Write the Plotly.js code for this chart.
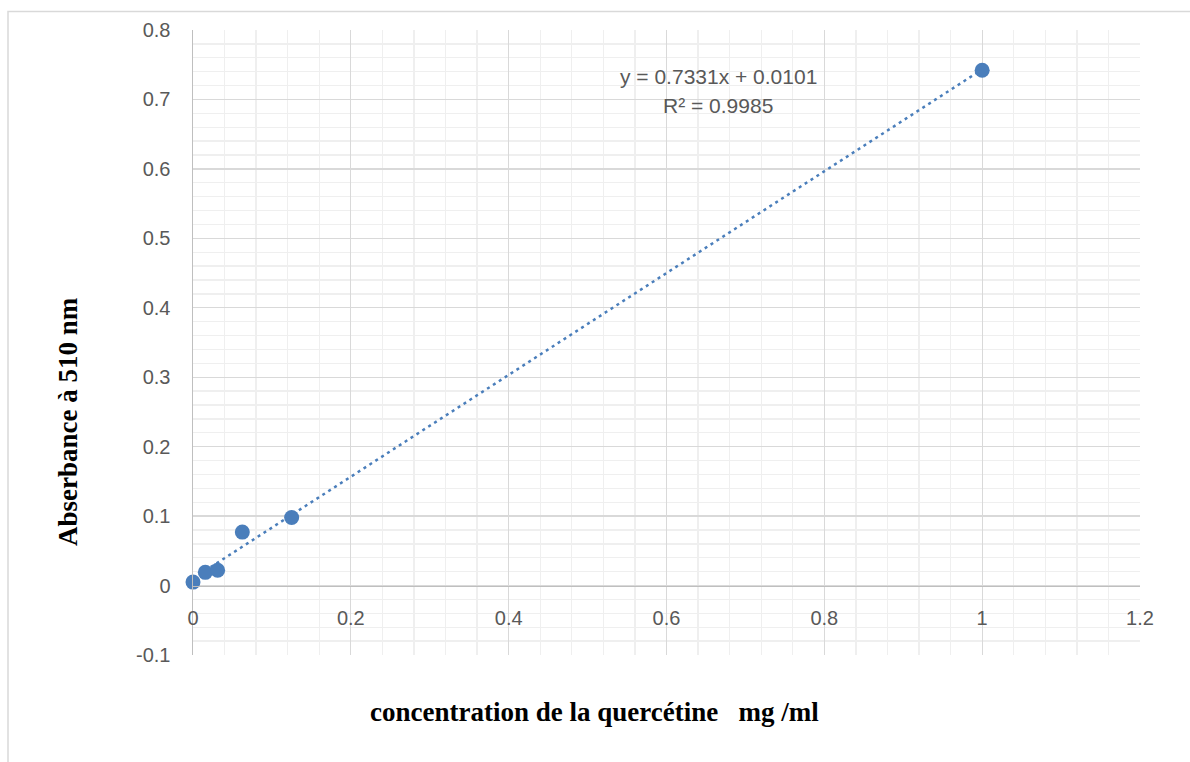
<!DOCTYPE html>
<html>
<head>
<meta charset="utf-8">
<script src="https://cdn.plot.ly/plotly-3.0.1.min.js"></script>
<style>
html,body{margin:0;padding:0;background:#fff;}
#chart{width:1190px;height:762px;}
</style>
</head>
<body>
<div id="chart"></div>
<script>
// Data
const concentration = [0, 0.015625, 0.03125, 0.0625, 0.125, 1];
const absorbance = [0.005, 0.019, 0.022, 0.077, 0.098, 0.742];
const trendSlope = 0.7331;
const trendIntercept = 0.0101;
const trendX = [0, 1];
const equationText = "y = 0.7331x + 0.0101";
const r2Text = "R² = 0.9985";
const xTitle = "concentration de la quercétine\u00A0\u00A0\u00A0mg /ml";
const yTitle = "Abserbance à 510 nm";
const xTickVals = [0, 0.2, 0.4, 0.6, 0.8, 1, 1.2];
const xTickText = ["0", "0.2", "0.4", "0.6", "0.8", "1", "1.2"];
const yTickVals = [-0.1, 0, 0.1, 0.2, 0.3, 0.4, 0.5, 0.6, 0.7, 0.8];
const yTickText = ["-0.1", "0", "0.1", "0.2", "0.3", "0.4", "0.5", "0.6", "0.7", "0.8"];

const trendY = trendX.map(x => trendSlope * x + trendIntercept);

const blue = '#4a7ebb';
const tickFont = {family: 'Liberation Sans, Arial, sans-serif', size: 20, color: '#595959'};
const titleFont = {family: 'Liberation Serif, Times New Roman, serif', size: 27, color: '#000', weight: 'bold'};

const traces = [
  {
    x: trendX, y: trendY, type: 'scatter', mode: 'lines',
    line: {color: blue, width: 2.5, dash: '3px,4px'},
    hoverinfo: 'skip', showlegend: false
  },
  {
    x: concentration, y: absorbance, type: 'scatter', mode: 'markers',
    marker: {color: blue, size: 15},
    showlegend: false, cliponaxis: false
  }
];

const L = 193, R = 1140, T = 30, B = 655, W = 1190, H = 762;
const pw = R - L, ph = B - T;
const px = v => (v - L) / pw;
const py = v => (B - v) / ph;

const layout = {
  width: W, height: H,
  margin: {l: L, r: W - R, t: T, b: H - B, pad: 0},
  paper_bgcolor: '#fff', plot_bgcolor: '#fff',
  showlegend: false,
  xaxis: {
    range: [0, 1.2], tickmode: 'array', tickvals: xTickVals, ticktext: xTickText,
    anchor: 'free', position: 0.1 / 0.9,
    showline: true, linecolor: '#bfbfbf', linewidth: 1.5,
    showgrid: true, gridcolor: '#d9d9d9', gridwidth: 1.3,
    zeroline: false, ticks: '',
    ticklabelstandoff: 14,
    tickfont: tickFont,
    minor: {tickmode: 'linear', tick0: 0, dtick: 0.04, showgrid: true, gridcolor: '#efefef', gridwidth: 1.3}
  },
  yaxis: {
    range: [-0.1, 0.8], tickmode: 'array', tickvals: yTickVals, ticktext: yTickText,
    showline: true, linecolor: '#bfbfbf', linewidth: 1.5,
    showgrid: true, gridcolor: '#d9d9d9', gridwidth: 1.3,
    zeroline: false, ticks: '',
    ticklabelstandoff: 17,
    tickfont: tickFont,
    minor: {tickmode: 'linear', tick0: 0, dtick: 0.02, showgrid: true, gridcolor: '#efefef', gridwidth: 1.3}
  },
  annotations: [
    {x: 0.6654, y: 0.7324, xref: 'x', yref: 'y', text: equationText, showarrow: false,
     font: {family: 'Liberation Sans, Arial, sans-serif', size: 21, color: '#595959'}, xanchor: 'center', yanchor: 'middle'},
    {x: 0.6654, y: 0.692, xref: 'x', yref: 'y', text: r2Text, showarrow: false,
     font: {family: 'Liberation Sans, Arial, sans-serif', size: 21, color: '#595959'}, xanchor: 'center', yanchor: 'middle'},
    {x: px(594), y: py(712), xref: 'paper', yref: 'paper', text: xTitle, showarrow: false,
     font: titleFont, xanchor: 'center', yanchor: 'middle'},
    {x: px(68), y: py(422), xref: 'paper', yref: 'paper', text: yTitle, showarrow: false,
     font: titleFont, textangle: -90, xanchor: 'center', yanchor: 'middle'}
  ],
  shapes: [
    {type: 'rect', xref: 'paper', yref: 'paper', x0: px(8), x1: px(1210), y0: py(780), y1: py(11.5),
     line: {color: '#d9d9d9', width: 1.5}, fillcolor: 'rgba(0,0,0,0)', layer: 'below'}
  ]
};

Plotly.newPlot('chart', traces, layout, {displayModeBar: false, staticPlot: true});
</script>
</body>
</html>
